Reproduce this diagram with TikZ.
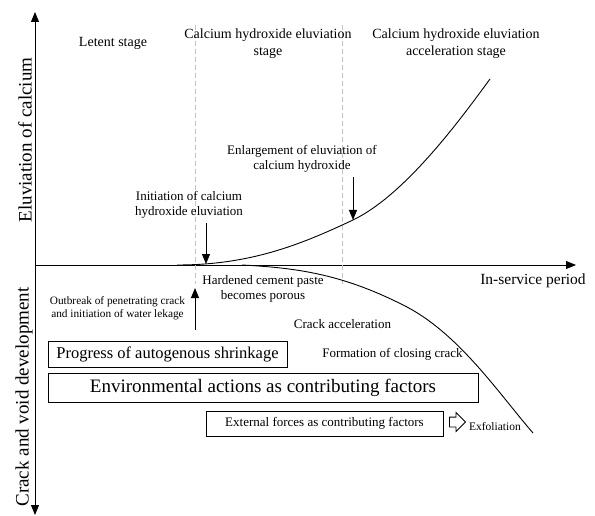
\documentclass[tikz,border=0pt]{standalone}
\usepackage{fontspec}
\setmainfont{Liberation Serif}
\usetikzlibrary{positioning,arrows.meta,shapes.arrows}
\definecolor{stagegray}{RGB}{195,195,195}
\tikzset{
  axis/.style={line width=1pt,-{Triangle[length=10pt,width=8pt]}},
  ptr/.style={line width=1pt,-{Triangle[length=10pt,width=8pt]}},
  stage/.style={stagegray,line width=0.8pt,dash pattern=on 5pt off 3pt},
  curve/.style={line width=0.9pt},
  lab/.style={align=center,inner sep=0pt},
  fbox/.style={draw,line width=0.8pt,inner sep=0pt,align=center},
  axlab/.style={lab,rotate=90,font=\fontsize{19}{22}\selectfont},
  stlab/.style={lab,font=\fontsize{14}{17}\selectfont},
  note/.style={lab,font=\fontsize{13}{15}\selectfont},
  small/.style={lab,font=\fontsize{11.3}{12.5}\selectfont}
}
\begin{document}
\begin{tikzpicture}[x=1pt,y=-1pt]
  \useasboundingbox (0,0) rectangle (595,516);
  \coordinate (O) at (35,265); \coordinate (ytop) at (35,12); \coordinate (ybot) at (35,515); \coordinate (xend) at (576,265);
  \draw[axis] (O) -- (xend); \draw[axis] (O) -- (ytop); \draw[axis] (O) -- (ybot);
  \draw[stage] (195,25) -- (195,284); \draw[stage] (342,25) -- (342,284);
  \coordinate (riseA) at (177,265); \coordinate (enlTip) at (353,220); \coordinate (riseB) at (490,79);
  \coordinate (fallA) at (242,265); \coordinate (fallM) at (407,307); \coordinate (fallB) at (533,433);
  \draw[curve] (riseA) .. controls (250,265) and (300,245) .. (enlTip) .. controls (405,195) and (460,120) .. (riseB);
  \draw[curve] (fallA) .. controls (300,268) and (345,275) .. (fallM) .. controls (460,335) and (500,395) .. (fallB);
  \node[axlab] (elu) at (25,140) {Eluviation of calcium};
  \node[axlab] (crack) at (24,397) {Crack and void development};
  \node[lab,font=\fontsize{15.5}{18}\selectfont] (period) at (533,281) {In-service period};
  \node[stlab] (latent) at (113,43) {Letent stage};
  \node[stlab] (eluv) at (268,43.5) {Calcium hydroxide eluviation\\stage};
  \node[stlab] (accel) at (456,43.5) {Calcium hydroxide eluviation\\acceleration stage};
  \node[note] (init) at (189,204.5) {Initiation of calcium\\hydroxide eluviation};
  \node[note] (enl) at (302,158.5) {Enlargement of eluviation of\\calcium hydroxide};
  \coordinate (initTip) at (206,264);
  \draw[ptr,shorten <=5pt] (init.south -| initTip) -- (initTip);
  \draw[ptr,shorten <=5pt] (enl.south -| enlTip) -- (enlTip);
  \node[note] (porous) at (263,288.5) {Hardened cement paste\\becomes porous};
  \node[small] (outbreak) at (117.5,308) {Outbreak of penetrating crack\\and initiation of water lekage};
  \coordinate (leakTail) at (195,330); \coordinate (leakTip) at (195,288);
  \draw[ptr] (leakTail) -- (leakTip);
  \node[note] (crackacc) at (342.5,324) {Crack acceleration};
  \node[note] (closing) at (392.5,354) {Formation of closing crack};
  \node[fbox,minimum width=239pt,minimum height=26pt,font=\fontsize{16.5}{19}\selectfont] (shrink) at (167.5,354) {Progress of autogenous shrinkage};
  \node[fbox,minimum width=430pt,minimum height=29pt,font=\fontsize{19}{22}\selectfont] (env) at (263,387.5) {Environmental actions as contributing factors};
  \node[fbox,minimum width=237pt,minimum height=25pt,font=\fontsize{13}{15}\selectfont] (ext) at (324.5,423.5) {External forces as contributing factors};
  \node[single arrow,draw,line width=0.8pt,fill=white,minimum height=16pt,inner xsep=0pt,inner ysep=4.5pt,single arrow head extend=4.5pt] (exarr) at (455,422) {};
  \node[lab,font=\fontsize{11.5}{13}\selectfont] (exfol) at (495,427) {Exfoliation};
\end{tikzpicture}
\end{document}
